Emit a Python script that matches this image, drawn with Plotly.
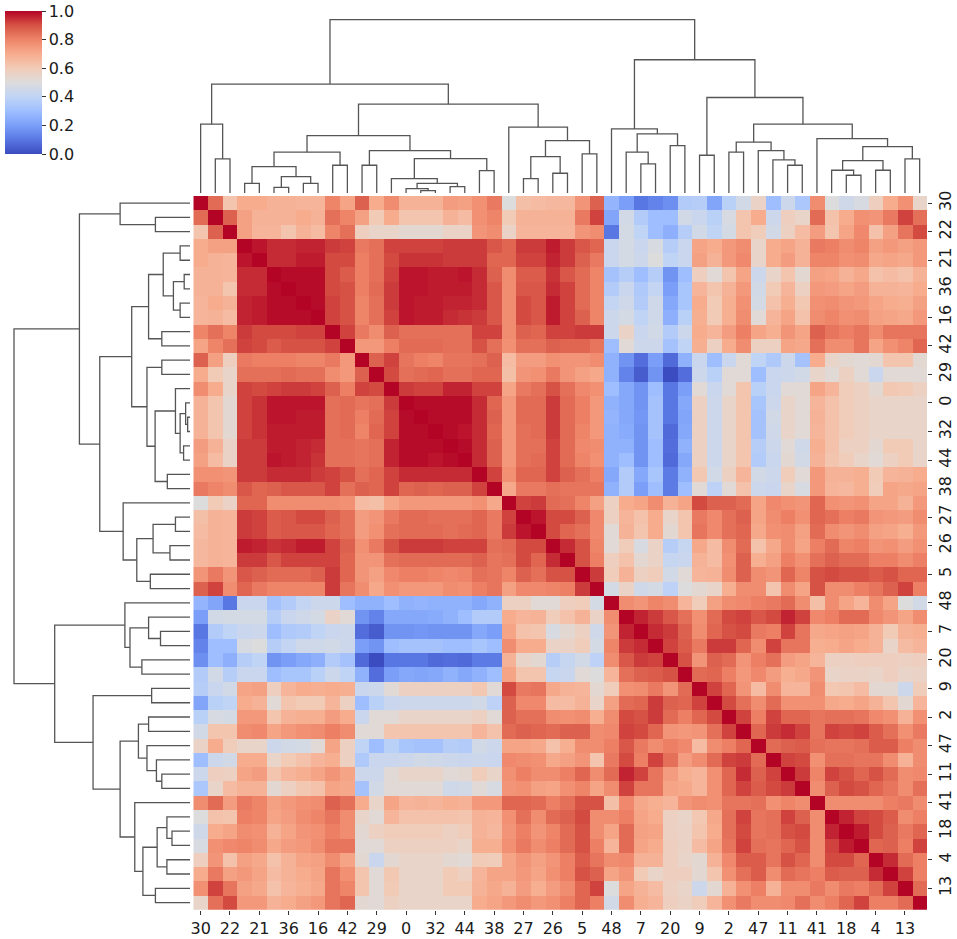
import numpy as np
import plotly.graph_objects as go

# labels shown on every second leaf (clustered order)
tick_labels = ["30", "22", "21", "36", "16", "42", "29", "0", "32", "44", "38", "27", "26",
               "5", "48", "7", "20", "9", "2", "47", "11", "41", "18", "4", "13"]

# linkage in display order: leaves 0..49, new clusters numbered from 50
link_a = [15, 14, 17, 51, 13, 19, 54, 11, 57, 5, 7, 59, 3, 62, 9, 63, 65, 22, 24, 67, 26, 69, 21, 66, 1,
          0, 75, 30, 29, 32, 78, 28, 34, 36, 40, 39, 38, 83, 44, 43, 46, 89, 48, 91, 42, 87, 82, 81, 76]
link_b = [16, 50, 18, 52, 53, 20, 55, 12, 56, 6, 8, 60, 4, 61, 10, 64, 58, 23, 25, 68, 27, 70, 71, 72, 2,
          74, 73, 31, 77, 33, 79, 80, 35, 37, 41, 84, 85, 86, 45, 88, 47, 90, 49, 92, 93, 94, 95, 96, 97]
link_h = [.023, .043, .063, .097, .143, .223, .343, .277, .423, .057, .097, .163, .097, .263, .277, .407,
          .573, .143, .197, .363, .39, .523, .657, .887, .34, .687, 1.087, .29, .407, .473, .59, .64,
          .377, .407, .277, .33, .423, .507, .177, .227, .227, .323, .34, .463, .543, .687, .953, 1.33, 1.73]

# upper triangle of the correlation matrix (x100), row i holds columns i+1..49
corr_upper = [
    [85, 62, 70, 70, 68, 68, 67, 67, 80, 72, 87, 70, 78, 68, 68, 68, 74, 73, 77, 82, 50, 64, 65, 66, 66, 76, 87, 27, 20, 10, 13, 16, 36, 37, 22, 38, 46, 56, 30, 44, 34, 78, 50, 45, 48, 58, 70, 77, 55],
    [87, 73, 68, 68, 68, 70, 68, 84, 80, 73, 60, 70, 62, 62, 62, 68, 65, 77, 80, 60, 68, 68, 68, 68, 82, 92, 22, 46, 36, 30, 30, 46, 43, 38, 48, 62, 70, 44, 58, 55, 85, 63, 70, 77, 76, 82, 92, 84],
    [73, 67, 67, 62, 68, 65, 80, 84, 58, 55, 55, 53, 53, 53, 56, 56, 76, 78, 56, 67, 67, 67, 67, 76, 78, 10, 47, 40, 30, 25, 37, 46, 40, 47, 62, 59, 46, 57, 65, 74, 62, 72, 79, 63, 73, 83, 91],
    [98, 95, 95, 96, 96, 93, 92, 82, 84, 92, 92, 92, 92, 93, 93, 93, 89, 86, 93, 93, 97, 93, 89, 86, 43, 47, 43, 48, 37, 43, 72, 70, 75, 78, 55, 70, 72, 68, 82, 81, 78, 80, 73, 75, 73, 75],
    [95, 95, 97, 97, 91, 91, 81, 84, 91, 94, 94, 94, 93, 93, 93, 86, 86, 92, 92, 96, 93, 87, 82, 43, 47, 44, 50, 40, 43, 73, 68, 75, 79, 55, 70, 74, 68, 80, 80, 77, 78, 71, 72, 71, 75],
    [99, 99, 99, 91, 88, 81, 84, 92, 98, 98, 97, 97, 98, 95, 87, 78, 88, 88, 94, 89, 85, 80, 32, 37, 30, 37, 17, 30, 58, 52, 62, 72, 44, 55, 62, 53, 73, 72, 68, 71, 63, 65, 63, 68],
    [99, 99, 91, 90, 81, 85, 93, 98, 98, 97, 97, 97, 95, 89, 78, 89, 89, 95, 92, 85, 80, 36, 43, 35, 41, 20, 33, 67, 62, 68, 75, 46, 60, 67, 57, 75, 74, 72, 74, 68, 68, 67, 70],
    [99, 92, 90, 80, 84, 93, 98, 97, 97, 96, 96, 95, 89, 78, 91, 89, 97, 92, 85, 80, 41, 45, 36, 45, 23, 33, 70, 60, 69, 77, 47, 63, 69, 61, 77, 78, 76, 75, 72, 70, 69, 73],
    [92, 90, 80, 84, 92, 98, 97, 97, 95, 94, 93, 89, 78, 91, 89, 97, 92, 87, 80, 44, 47, 40, 45, 25, 38, 69, 60, 69, 78, 52, 67, 72, 63, 78, 80, 77, 78, 73, 72, 71, 75],
    [92, 82, 78, 87, 84, 84, 84, 84, 84, 92, 92, 78, 87, 86, 92, 92, 93, 93, 44, 56, 43, 46, 36, 44, 70, 67, 74, 81, 72, 69, 76, 72, 87, 83, 81, 83, 78, 83, 83, 83],
    [75, 75, 81, 85, 85, 85, 84, 84, 90, 84, 77, 84, 84, 87, 86, 86, 83, 30, 52, 44, 44, 32, 40, 69, 57, 70, 78, 57, 57, 72, 71, 84, 78, 78, 83, 72, 77, 80, 86],
    [87, 92, 83, 81, 80, 83, 83, 84, 87, 65, 74, 74, 77, 76, 76, 78, 26, 17, 8, 20, 7, 26, 43, 30, 43, 52, 40, 35, 44, 32, 70, 55, 53, 52, 53, 62, 62, 53],
    [91, 84, 85, 86, 84, 84, 86, 86, 64, 76, 77, 82, 76, 73, 71, 26, 13, 4, 17, 0, 8, 44, 38, 52, 52, 30, 43, 44, 46, 55, 52, 57, 52, 43, 52, 52, 52],
    [93, 92, 92, 96, 96, 92, 92, 72, 82, 84, 90, 84, 79, 77, 30, 23, 17, 30, 10, 20, 52, 43, 52, 62, 38, 43, 52, 52, 72, 67, 59, 57, 53, 61, 60, 57],
    [99, 99, 99, 99, 95, 86, 75, 85, 85, 93, 85, 81, 75, 26, 23, 17, 32, 10, 23, 57, 44, 55, 62, 33, 44, 55, 52, 67, 63, 59, 57, 55, 55, 55, 55],
    [99, 99, 99, 95, 87, 75, 85, 85, 93, 85, 81, 75, 27, 23, 18, 32, 10, 22, 57, 44, 55, 62, 32, 46, 55, 52, 68, 63, 59, 57, 55, 55, 55, 55],
    [99, 98, 95, 86, 75, 84, 85, 93, 85, 80, 75, 26, 24, 17, 32, 7, 23, 57, 44, 55, 62, 32, 45, 55, 52, 67, 63, 59, 57, 55, 55, 55, 55],
    [99, 95, 87, 75, 84, 84, 92, 85, 79, 78, 26, 26, 17, 30, 8, 26, 57, 44, 55, 62, 37, 44, 52, 45, 69, 63, 57, 57, 53, 60, 60, 55],
    [95, 87, 75, 84, 85, 92, 85, 80, 77, 26, 30, 17, 30, 7, 23, 57, 44, 55, 62, 36, 43, 53, 46, 68, 62, 59, 55, 52, 57, 60, 55],
    [92, 77, 86, 86, 92, 87, 84, 81, 23, 36, 23, 33, 11, 26, 61, 46, 57, 67, 46, 44, 59, 52, 75, 68, 68, 69, 60, 67, 68, 70],
    [71, 82, 82, 84, 83, 83, 83, 26, 36, 20, 30, 11, 30, 52, 39, 52, 63, 44, 43, 55, 48, 75, 67, 66, 69, 59, 72, 71, 72],
    [92, 93, 85, 84, 80, 73, 57, 70, 72, 78, 68, 72, 91, 87, 87, 85, 72, 79, 77, 76, 86, 77, 76, 77, 72, 72, 68, 75],
    [98, 91, 91, 87, 79, 57, 67, 63, 70, 55, 62, 82, 79, 84, 87, 72, 78, 81, 77, 86, 84, 81, 82, 76, 75, 74, 78],
    [91, 86, 84, 79, 52, 68, 62, 70, 53, 62, 83, 79, 84, 86, 71, 77, 78, 73, 85, 78, 76, 78, 73, 72, 69, 75],
    [95, 90, 80, 52, 59, 48, 56, 37, 42, 71, 65, 78, 85, 63, 71, 78, 72, 81, 85, 80, 81, 76, 77, 74, 77],
    [90, 81, 58, 63, 53, 56, 42, 43, 68, 65, 77, 87, 69, 73, 81, 77, 84, 87, 85, 85, 81, 81, 78, 81],
    [93, 59, 68, 57, 59, 46, 52, 67, 68, 78, 87, 78, 76, 86, 80, 90, 91, 90, 90, 88, 90, 86, 86],
    [47, 56, 45, 47, 39, 50, 53, 55, 69, 78, 78, 62, 78, 72, 90, 78, 78, 81, 83, 87, 92, 81],
    [78, 76, 80, 78, 67, 59, 73, 78, 79, 81, 82, 85, 78, 64, 78, 72, 67, 78, 72, 50, 46],
    [96, 93, 89, 84, 77, 85, 91, 92, 89, 91, 96, 92, 79, 81, 85, 85, 79, 76, 72, 78],
    [95, 93, 87, 78, 86, 90, 91, 82, 81, 92, 83, 71, 72, 73, 72, 68, 60, 68, 69],
    [92, 88, 82, 93, 93, 86, 78, 92, 83, 83, 69, 70, 72, 70, 68, 55, 65, 67],
    [90, 76, 87, 85, 76, 81, 84, 74, 72, 67, 57, 57, 58, 58, 58, 57, 58],
    [85, 86, 81, 75, 79, 74, 69, 71, 76, 55, 56, 56, 55, 58, 55, 56],
    [92, 86, 76, 65, 78, 67, 67, 78, 61, 62, 65, 53, 53, 44, 59],
    [91, 84, 78, 85, 77, 77, 77, 71, 70, 72, 68, 62, 53, 67],
    [92, 81, 92, 86, 86, 83, 84, 84, 83, 79, 77, 68, 77],
    [86, 93, 95, 92, 83, 92, 91, 92, 88, 84, 77, 82],
    [85, 87, 88, 84, 83, 83, 84, 88, 88, 81, 78],
    [92, 91, 77, 84, 84, 83, 83, 78, 68, 78],
    [93, 80, 92, 90, 86, 90, 85, 78, 79],
    [78, 87, 91, 90, 86, 83, 78, 84],
    [78, 78, 78, 78, 81, 82, 78],
    [96, 92, 91, 88, 78, 81],
    [97, 91, 87, 82, 86],
    [86, 87, 81, 92],
    [95, 85, 81],
    [92, 81],
    [85],
]

coolwarm = ["#3b4cc0", "#5977e3", "#7b9ff9", "#9ebeff", "#c0d4f5", "#dddcdc",
            "#f2cbb7", "#f7ac8e", "#ee8468", "#d65244", "#b40426"]

n = len(corr_upper) + 1
corr = np.eye(n)
for i, row in enumerate(corr_upper):
    corr[i, i + 1:] = np.array(row) / 100
    corr[i + 1:, i] = np.array(row) / 100

# dendrogram segments from the linkage
pos = {i: float(i) for i in range(n)}
hgt = {i: 0.0 for i in range(n)}
seg_p, seg_h = [], []
for k, (a, b, h) in enumerate(zip(link_a, link_b, link_h)):
    seg_p += [pos[a], pos[a], pos[b], pos[b], None]
    seg_h += [hgt[a], h, h, hgt[b], None]
    pos[n + k] = (pos[a] + pos[b]) / 2
    hgt[n + k] = h

W, H = 957, 939
hmax = max(link_h) * 1.05
line = dict(color="#555555", width=1.3)
font = dict(family="DejaVu Sans", size=16, color="#1a1a1a")

fig = go.Figure()
fig.add_trace(go.Heatmap(
    z=corr, x=list(range(n)), y=list(range(n)),
    colorscale=[[i / 10, c] for i, c in enumerate(coolwarm)], zmin=0, zmax=1,
    colorbar=dict(x=5 / W, xanchor="left", y=1 - 11 / H, yanchor="top",
                  len=143, lenmode="pixels", thickness=37, xpad=0, ypad=0,
                  outlinewidth=0, ticks="outside", ticklen=4, tickcolor="#333",
                  tickvals=[0, .2, .4, .6, .8, 1],
                  ticktext=["0.0", "0.2", "0.4", "0.6", "0.8", "1.0"],
                  tickfont=font),
))
fig.add_trace(go.Scatter(x=seg_p, y=seg_h, mode="lines", line=line,
                         xaxis="x2", yaxis="y2", hoverinfo="skip"))
fig.add_trace(go.Scatter(x=seg_h, y=seg_p, mode="lines", line=line,
                         xaxis="x3", yaxis="y3", hoverinfo="skip"))

hx = [193.3 / W, 927 / W]
hy = [1 - 909.7 / H, 1 - 196 / H]
ticks = list(range(0, n, 2))
hidden = dict(visible=False, showgrid=False, zeroline=False)

fig.update_layout(
    width=W, height=H, margin=dict(l=0, r=0, t=0, b=0, autoexpand=False),
    paper_bgcolor="white", plot_bgcolor="white", showlegend=False, font=font,
    xaxis=dict(domain=hx, range=[-0.5, n - 0.5], tickvals=ticks, ticktext=tick_labels,
               ticks="outside", ticklen=4, tickcolor="#333", showgrid=False,
               zeroline=False, showline=False, tickangle=0, tickfont=font, automargin=False),
    yaxis=dict(domain=hy, range=[n - 0.5, -0.5], side="right", tickvals=ticks,
               ticktext=tick_labels, ticks="outside", ticklen=4, tickcolor="#333",
               showgrid=False, zeroline=False, showline=False, tickangle=-90,
               tickfont=font, anchor="x", automargin=False),
    xaxis2=dict(domain=hx, range=[-0.5, n - 0.5], anchor="y2", **hidden),
    yaxis2=dict(domain=[1 - 193 / H, 1 - 11 / H], range=[0, hmax], anchor="x2", **hidden),
    xaxis3=dict(domain=[5.2 / W, 190 / W], range=[hmax, 0], anchor="y3", **hidden),
    yaxis3=dict(domain=hy, range=[n - 0.5, -0.5], anchor="x3", **hidden),
)

# drop the browser's default page margin so the figure sits at the window corner
fig.write_html("out.html", config={"displayModeBar": False},
               post_script="document.body.style.margin = '0';")
